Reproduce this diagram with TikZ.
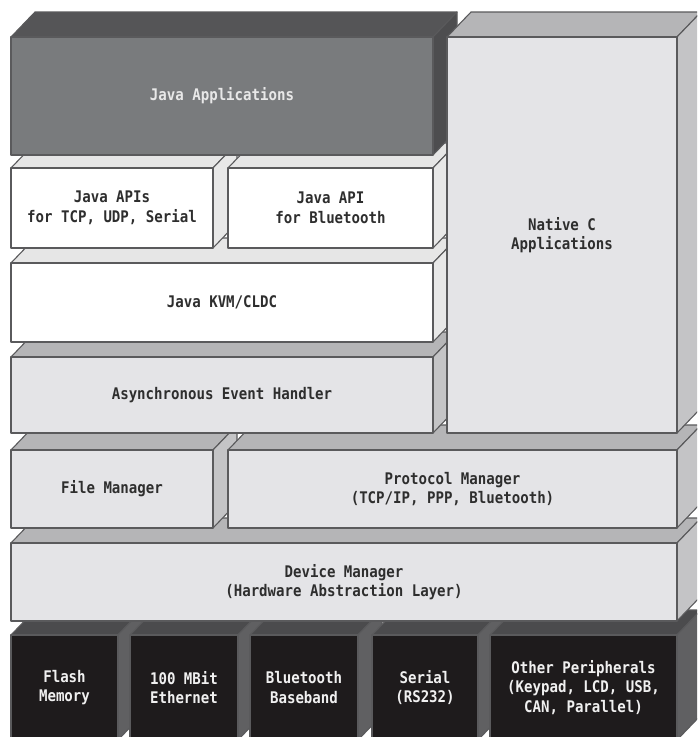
\documentclass[tikz,border=0pt]{standalone}
\usepackage{fontspec}
\newfontfamily\lblfont{DejaVu Sans Mono}[FakeStretch=0.88]
\definecolor{jafront}{HTML}{797B7D}
\definecolor{jatop}{HTML}{555557}
\definecolor{jaside}{HTML}{4D4D4F}
\definecolor{jatext}{HTML}{E8E8E8}
\definecolor{whfront}{HTML}{FFFFFF}
\definecolor{whtop}{HTML}{E6E6E6}
\definecolor{whside}{HTML}{E8E8E8}
\definecolor{whtext}{HTML}{2E2E2E}
\definecolor{gyfront}{HTML}{E4E4E7}
\definecolor{gytop}{HTML}{B5B5B7}
\definecolor{gyside}{HTML}{C4C4C6}
\definecolor{gytext}{HTML}{2E2E2E}
\definecolor{bkfront}{HTML}{1E1B1C}
\definecolor{bktop}{HTML}{4B4B4D}
\definecolor{bkside}{HTML}{606062}
\definecolor{bktext}{HTML}{F0F0F0}
\definecolor{edgec}{HTML}{5A5A5C}
\def\dx{24}
\def\dy{25}
% #1 name, #2 x1, #3 y1, #4 x2, #5 y2, #6 colour set, #7 text
\newcommand\blockbox[7]{%
  \filldraw[edge, fill=#6top] (#2,#3) -- ++(\dx,-\dy) -- (#4+\dx,#3-\dy) -- (#4,#3) -- cycle;
  \filldraw[edge, fill=#6side] (#4,#3) -- ++(\dx,-\dy) -- (#4+\dx,#5-\dy) -- (#4,#5) -- cycle;
  \node[face, fill=#6front, text=#6text, minimum width={(#4-#2)*1pt}, minimum height={(#5-#3)*1pt}, anchor=north west] (#1) at (#2,#3) {#7};
}
\begin{document}
\begin{tikzpicture}[x=1pt,y=-1pt,
  edge/.style={draw=edgec, line width=1.1pt, line join=round},
  face/.style={edge, inner sep=0pt, outer sep=0pt, align=center,
    font=\lblfont\bfseries\fontsize{16}{19.5}\selectfont}]
\fill[white] (0,0) rectangle (697,737);
\useasboundingbox (0,0) rectangle (697,737);
\clip (0,0) rectangle (697,737);
% hardware row
\blockbox{flash}{11}{635}{118}{740}{bk}{Flash\\Memory}
\blockbox{eth}{130}{635}{238}{740}{bk}{100 MBit\\Ethernet}
\blockbox{btbb}{250}{635}{358}{740}{bk}{Bluetooth\\Baseband}
\blockbox{serial}{372}{635}{478}{740}{bk}{Serial\\(RS232)}
\blockbox{other}{490}{635}{677}{740}{bk}{Other Peripherals\\(Keypad, LCD, USB,\\CAN, Parallel)}
% device manager
\blockbox{dev}{11}{543}{677}{621}{gy}{Device Manager\\(Hardware Abstraction Layer)}
% managers
\blockbox{file}{11}{450}{213}{528}{gy}{File Manager}
\blockbox{proto}{228}{450}{677}{528}{gy}{Protocol Manager\\(TCP/IP, PPP, Bluetooth)}
% event handler
\blockbox{async}{11}{357}{433}{433}{gy}{Asynchronous Event Handler}
% KVM
\blockbox{kvm}{11}{263}{433}{342}{wh}{Java KVM/CLDC}
% APIs
\blockbox{apinet}{11}{168}{213}{248}{wh}{Java APIs\\for TCP, UDP, Serial}
\blockbox{apibt}{228}{168}{433}{248}{wh}{Java API\\for Bluetooth}
% applications
\blockbox{japps}{11}{37}{433}{155}{ja}{Java Applications}
\blockbox{native}{447}{37}{677}{433}{gy}{Native C\\Applications}
\end{tikzpicture}
\end{document}
